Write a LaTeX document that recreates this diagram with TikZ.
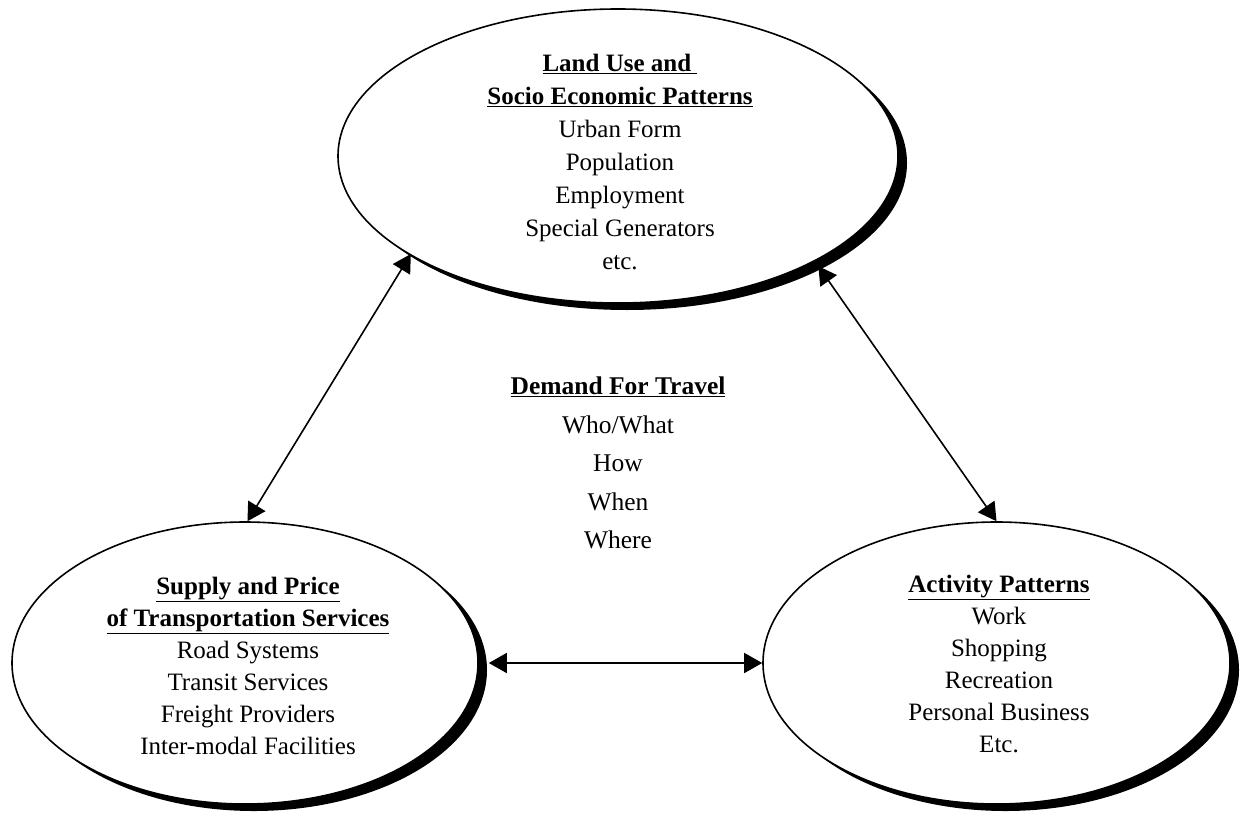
\documentclass[tikz,border=0pt]{standalone}
\usepackage{fontspec}
\setmainfont{Liberation Serif}
\usetikzlibrary{shapes.geometric,shadows,arrows.meta}
\begin{document}
\begin{tikzpicture}[x=1pt,y=-1pt,
  ell/.style={ellipse, draw, line width=1.6pt, fill=white, inner sep=0pt,
    drop shadow={shadow xshift=9pt, shadow yshift=-7pt, opacity=1, fill=black}},
  txt/.style={align=center, font=\fontsize{25}{33}\selectfont, inner sep=0pt},
  btxt/.style={align=center, font=\fontsize{25}{32}\selectfont, inner sep=0pt},
  ctr/.style={align=center, font=\fontsize{25.5}{38.5}\selectfont, inner sep=0pt},
  link/.style={line width=1.6pt, {Triangle[length=18pt,width=20pt]}-{Triangle[length=18pt,width=20pt]}}
]
\path[use as bounding box] (0,0) rectangle (1241,816);
\node[ell, minimum width=560pt, minimum height=294pt] (T) at (618,156) {};
\node[ell, minimum width=466pt, minimum height=282pt] (L) at (245,663) {};
\node[ell, minimum width=467pt, minimum height=282pt] (R) at (996.5,663) {};

\node[txt] (Tt) at (620,162) {\textbf{\underline{Land Use and\ }}\\\textbf{\underline{Socio Economic Patterns}}\\Urban Form\\Population\\Employment\\Special Generators\\etc.};
\node[btxt] (Lt) at (248,666) {\textbf{\underline{Supply and Price}}\\\textbf{\underline{of Transportation Services}}\\Road Systems\\Transit Services\\Freight Providers\\Inter-modal Facilities};
\node[btxt] (Rt) at (999,664) {\textbf{\underline{Activity Patterns}}\\Work\\Shopping\\Recreation\\Personal Business\\Etc.};
\node[ctr] (C) at (618,463) {\textbf{\underline{Demand For Travel}}\\Who/What\\How\\When\\Where};

\draw[link] ([xshift=3pt]T.205) -- (L.89);
\draw[link] ([xshift=7pt,yshift=-3pt]T.331) -- (R.90);
\draw[link] ([xshift=10pt]L.east) -- (R.west);
\end{tikzpicture}
\end{document}
